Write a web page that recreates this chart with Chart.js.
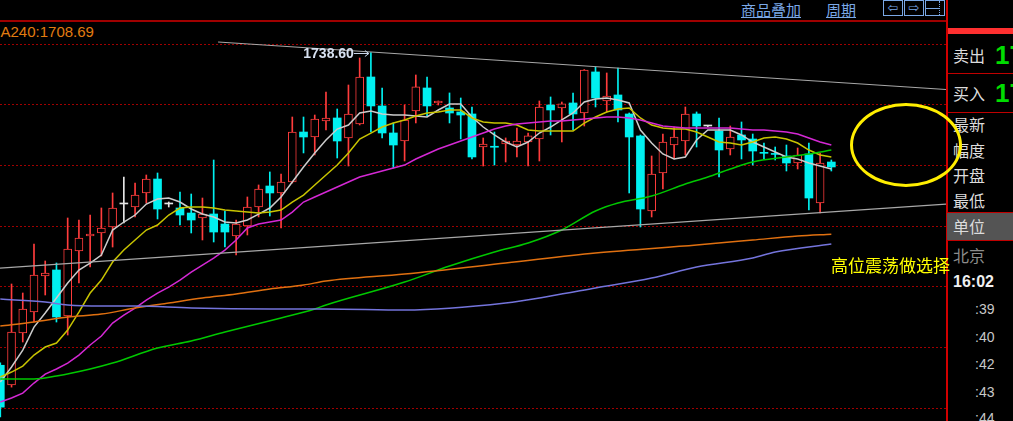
<!DOCTYPE html>
<html>
<head>
<meta charset="utf-8">
<script src="https://cdn.jsdelivr.net/npm/chart.js@4.4.0/dist/chart.umd.min.js"></script>
<style>
  body { margin: 0; background: #000; width: 1013px; height: 421px; overflow: hidden; position: relative;
         font-family: "Noto Sans CJK SC", "Noto Sans", sans-serif; }
  .abs { position: absolute; white-space: nowrap; }
  #wrap { position: absolute; left: 0; top: 21px; width: 946px; height: 400px; }
  .panel-label { position: absolute; left: 953px; font-size: 16px; line-height: 20px; color: #dcdcdc; }
  .tick-time { position: absolute; left: 975px; font-size: 14px; line-height: 18px; color: #c8c8c8;
               font-family: "Liberation Sans", Arial, sans-serif; }
  .tool-link { position: absolute; top: 1px; font-size: 15px; line-height: 18px; color: #7aa8e6; text-decoration: underline; }
  .tool-btn { position: absolute; top: 0; width: 18px; height: 14px; border: 1px solid #7aa8e6; color: #7aa8e6;
              font-size: 13px; line-height: 14px; text-align: center; font-family: "DejaVu Sans", sans-serif; }
  .red-h { position: absolute; left: 948px; width: 65px; height: 1px; background: #c00000; }
  .bid { position: absolute; left: 995px; font: bold 26px/26px "Liberation Sans", Arial, sans-serif; color: #00dd00; }
</style>
</head>
<body>
<!-- toolbar -->
<div class="abs" style="left:0;top:20px;width:946px;height:2px;background:#a00000"></div>
<div class="tool-link" style="left:741px">商品叠加</div>
<div class="tool-link" style="left:826px">周期</div>
<div class="tool-btn" style="left:883px">⇦</div>
<div class="tool-btn" style="left:904px">⇨</div>
<div class="tool-btn" style="left:925px">
  <div style="position:absolute;left:0;top:7px;width:13px;height:1px;background:#7aa8e6"></div>
  <div style="position:absolute;left:13px;top:0;width:1px;height:14px;border-left:1px dotted #7aa8e6"></div>
</div>

<div class="abs" style="left:-12px;top:23px;font:15px/18px 'Liberation Sans',Arial,sans-serif;color:#e27c10">MA240:1708.69</div>

<div id="wrap"><canvas id="kline" width="946" height="400"></canvas></div>

<!-- right panel -->
<div class="abs" style="left:946px;top:0;width:2px;height:421px;background:#d00000"></div>
<div class="abs" style="left:948px;top:28px;width:65px;height:6px;background:#ff3030"></div>
<div class="panel-label" style="top:45px">卖出</div>
<div class="bid" style="top:42px">17</div>
<div class="red-h" style="top:73px"></div>
<div class="panel-label" style="top:83px">买入</div>
<div class="bid" style="top:80px">17</div>
<div class="red-h" style="top:112px"></div>
<div class="panel-label" style="top:114px">最新</div>
<div class="panel-label" style="top:140px">幅度</div>
<div class="panel-label" style="top:165px">开盘</div>
<div class="panel-label" style="top:190px">最低</div>
<div class="abs" style="left:947px;top:212px;width:66px;height:27px;background:#545454;border-top:1px solid #c00000;border-bottom:1px solid #c00000"></div>
<div class="panel-label" style="top:216px">单位</div>
<div class="panel-label" style="top:245px;color:#8c8c8c">北京</div>
<div class="abs" style="left:953px;top:272px;font:bold 16px/20px 'Liberation Sans',Arial,sans-serif;color:#f0f0f0">16:02</div>
<div class="tick-time" style="top:300px">:39</div>
<div class="tick-time" style="top:328px">:40</div>
<div class="tick-time" style="top:355px">:42</div>
<div class="tick-time" style="top:383px">:43</div>
<div class="tick-time" style="top:409px">:44</div>

<!-- annotations -->
<div class="abs" style="left:850px;top:103px;width:106px;height:78px;border:3px solid #ffee00;border-radius:50%"></div>
<div class="abs" style="left:831px;top:255px;font-size:17px;line-height:20px;color:#ffff00">高位震荡做选择</div>

<script>
// candle data, one entry per bar
const candleOpen = [1687.1, 1683.85, 1692.41, 1695.87, 1701.8, 1702.79, 1695.21, 1705.92, 1708.39, 1708.88,
  1709.87, 1713.66, 1713.16, 1715.47, 1717.77, 1713.66, 1713.0, 1712.17, 1711.35, 1712.01,
  1710.36, 1708.39, 1710.03, 1713.16, 1716.62, 1715.47, 1717.28, 1725.51, 1724.69, 1727.33,
  1727.82, 1724.53, 1726.83, 1734.57, 1729.8, 1725.35, 1724.03, 1728.97, 1732.76, 1730.29,
  1729.47, 1728.81, 1728.48, 1723.04, 1723.1, 1723.54, 1723.37, 1723.87, 1724.36, 1729.96,
  1729.47, 1730.29, 1728.64, 1735.4, 1730.62, 1731.61, 1728.48, 1724.86, 1712.5, 1718.76,
  1723.37, 1724.03, 1728.48, 1726.5, 1725.68, 1722.71, 1725.02, 1724.36, 1722.14, 1721.96,
  1721.56, 1720.41, 1721.89, 1713.82, 1720.57];
const candleHigh = [1687.5, 1700.48, 1699.0, 1707.07, 1704.27, 1703.94, 1711.35, 1711.02, 1711.84, 1713.0,
  1715.47, 1718.1, 1717.11, 1718.43, 1718.76, 1713.99, 1715.63, 1715.3, 1714.64, 1720.9,
  1712.5, 1711.02, 1714.81, 1716.79, 1718.93, 1718.6, 1727.98, 1727.98, 1728.31, 1732.1,
  1729.3, 1733.25, 1737.7, 1738.6, 1732.76, 1727.0, 1729.96, 1734.9, 1734.57, 1730.62,
  1731.94, 1731.11, 1729.63, 1724.53, 1725.51, 1724.53, 1726.17, 1725.35, 1730.62, 1731.28,
  1730.45, 1731.94, 1735.8, 1736.22, 1735.23, 1736.05, 1728.64, 1725.02, 1721.56, 1725.18,
  1726.34, 1729.63, 1728.81, 1726.6, 1727.82, 1726.5, 1727.16, 1725.18, 1723.7, 1723.04,
  1723.37, 1722.88, 1723.7, 1722.06, 1720.9];
const candleLow = [1678.6, 1683.5, 1690.93, 1694.22, 1698.67, 1694.22, 1692.08, 1700.65, 1703.28, 1705.09,
  1706.57, 1710.53, 1711.52, 1713.82, 1711.19, 1713.16, 1710.2, 1708.88, 1707.73, 1707.4,
  1706.57, 1705.26, 1708.55, 1711.52, 1711.68, 1709.7, 1717.1, 1722.06, 1721.73, 1725.84,
  1721.23, 1719.91, 1726.67, 1725.51, 1724.53, 1719.58, 1720.74, 1727.0, 1728.15, 1729.96,
  1727.0, 1724.36, 1721.07, 1719.91, 1720.08, 1720.57, 1721.4, 1719.91, 1720.74, 1725.02,
  1723.87, 1725.84, 1726.5, 1729.63, 1728.81, 1727.16, 1715.47, 1709.87, 1711.52, 1716.13,
  1721.07, 1721.73, 1723.04, 1726.4, 1718.1, 1721.73, 1721.07, 1720.08, 1721.07, 1720.9,
  1719.09, 1719.42, 1712.67, 1712.17, 1719.09];
const candleClose = [1680.2, 1692.58, 1696.36, 1701.96, 1702.29, 1695.05, 1706.25, 1708.06, 1708.72, 1709.7,
  1713.0, 1713.66, 1715.14, 1717.77, 1712.83, 1713.66, 1711.84, 1711.02, 1712.01, 1709.04,
  1709.04, 1710.36, 1713.16, 1716.13, 1715.47, 1717.28, 1725.51, 1724.69, 1727.65, 1727.82,
  1724.03, 1728.48, 1734.57, 1729.8, 1725.35, 1723.37, 1727.49, 1732.93, 1729.8, 1730.62,
  1728.64, 1728.31, 1721.4, 1723.54, 1723.0, 1724.03, 1724.03, 1724.86, 1729.63, 1729.14,
  1730.13, 1728.48, 1735.72, 1731.11, 1731.44, 1729.14, 1724.69, 1712.83, 1718.6, 1723.87,
  1724.69, 1728.48, 1726.5, 1726.5, 1722.55, 1724.69, 1724.2, 1722.38, 1722.0, 1721.82,
  1720.41, 1721.73, 1714.64, 1720.41, 1719.75];

// moving averages, one value per bar
const ma5 = [1684.33, 1686.81, 1689.60, 1693.39, 1695.70, 1698.17, 1700.64, 1702.78, 1703.93, 1705.25,
  1709.37, 1710.69, 1711.84, 1713.65, 1714.47, 1714.64, 1713.98, 1712.83, 1712.00, 1711.51,
  1710.69, 1710.52, 1711.02, 1712.00, 1712.99, 1714.80, 1717.27, 1719.75, 1722.05, 1724.19,
  1726.00, 1726.66, 1728.64, 1728.97, 1728.47, 1728.31, 1728.31, 1728.14, 1727.98, 1729.13,
  1730.12, 1730.12, 1727.98, 1726.33, 1725.02, 1723.86, 1723.04, 1723.86, 1725.34, 1726.33,
  1727.49, 1728.64, 1730.45, 1730.94, 1731.11, 1730.78, 1730.29, 1725.84, 1723.70, 1721.89,
  1721.06, 1721.39, 1724.19, 1725.84, 1725.84, 1725.84, 1725.02, 1723.86, 1723.04, 1722.22,
  1721.39, 1721.06, 1720.40, 1719.91, 1719.42];
const ma10 = [1685.16, 1685.98, 1686.97, 1688.78, 1690.10, 1690.76, 1692.90, 1695.86, 1698.99, 1701.13,
  1704.10, 1706.07, 1707.72, 1709.37, 1710.19, 1711.84, 1712.99, 1713.16, 1713.16, 1712.99,
  1712.66, 1712.50, 1712.33, 1712.17, 1712.33, 1712.66, 1713.98, 1715.13, 1716.78, 1718.43,
  1720.07, 1722.05, 1724.36, 1725.34, 1726.33, 1726.99, 1727.49, 1728.14, 1728.64, 1728.80,
  1729.13, 1729.13, 1727.82, 1727.16, 1726.99, 1726.99, 1726.66, 1725.84, 1725.67, 1725.67,
  1725.67, 1725.67, 1726.99, 1727.98, 1728.80, 1729.30, 1729.46, 1727.82, 1726.66, 1726.17,
  1726.00, 1726.00, 1725.51, 1724.69, 1723.86, 1723.70, 1723.37, 1723.86, 1724.52, 1724.69,
  1724.36, 1723.70, 1722.54, 1721.72, 1721.39];
const ma20 = [1681.04, 1681.70, 1682.52, 1684.17, 1685.65, 1686.48, 1687.46, 1688.78, 1690.43, 1691.91,
  1694.05, 1695.37, 1696.52, 1697.84, 1698.99, 1699.98, 1701.13, 1702.45, 1703.60, 1704.76,
  1706.07, 1707.72, 1709.70, 1710.36, 1710.69, 1711.02, 1712.33, 1713.98, 1714.80, 1715.63,
  1716.45, 1717.27, 1718.10, 1718.59, 1719.09, 1719.58, 1720.07, 1721.06, 1721.89, 1722.71,
  1723.37, 1724.03, 1724.69, 1725.34, 1726.00, 1726.50, 1726.83, 1726.99, 1727.16, 1727.32,
  1727.32, 1727.49, 1727.65, 1727.82, 1727.98, 1727.98, 1727.82, 1727.49, 1726.99, 1726.50,
  1726.33, 1726.17, 1726.17, 1726.17, 1726.17, 1726.17, 1726.00, 1725.84, 1725.84, 1725.67,
  1725.51, 1725.18, 1724.52, 1723.86, 1723.37];

// slower averages, read at selected bars
const ma60Index = [0, 3, 5, 8, 10, 14, 17, 20, 25, 28, 29, 36, 40, 44, 47, 50, 53, 55, 58, 61, 63, 65, 67, 70, 72, 74];
const ma60 = [1684.83, 1684.83, 1685.32, 1686.48, 1687.46, 1689.93, 1691.09, 1692.57, 1694.88, 1696.36,
  1697.02, 1700.80, 1703.44, 1705.75, 1707.23, 1709.37, 1712.50, 1713.82, 1714.97, 1716.95,
  1718.10, 1719.42, 1720.57, 1721.39, 1721.89, 1722.54];
const ma240Index = [0, 3, 6, 9, 12, 15, 18, 21, 24, 27, 29, 36, 45, 53, 62, 67, 71, 74];
const ma240 = [1693.56, 1694.22, 1695.04, 1695.53, 1696.52, 1697.35, 1698.17, 1698.83, 1699.65, 1700.31,
  1700.97, 1702.12, 1703.93, 1705.58, 1706.90, 1707.72, 1708.38, 1708.69];
const ma120Index = [0, 4, 6, 9, 12, 17, 24, 29, 36, 45, 49, 53, 58, 62, 67, 69, 74];
const ma120 = [1698.00, 1697.51, 1697.02, 1696.85, 1696.85, 1696.52, 1696.36, 1696.36, 1696.19, 1697.35,
  1698.50, 1699.82, 1701.46, 1703.28, 1704.76, 1705.75, 1707.06];

// hand-drawn trend lines (bar position, price)
const trendUpperX = [19.39, 84.21];
const trendUpperY = [1740.33, 1732.51];
const trendLowerX = [-0.03, 84.21];
const trendLowerY = [1703.11, 1713.65];

const gridPrices = [1680, 1690, 1700, 1710, 1720, 1730, 1740];
const highLabelIndex = 33;
const highLabelText = "1738.60";

const upColor = '#ff3c3c', downColor = '#00f0f0', flatColor = '#e4e4e4';

function dir(i) {
  if (i === undefined) return 0;
  return candleClose[i] > candleOpen[i] ? 1 : (candleClose[i] < candleOpen[i] ? -1 : 0);
}
function candleColor(i) {
  const d = dir(i);
  return d > 0 ? upColor : (d < 0 ? downColor : flatColor);
}

const bodies = candleOpen.map((o, i) => ({ x: i, y: [o, candleClose[i]] }));
const wicks = candleLow.map((l, i) => ({ x: i, y: [l, candleHigh[i]] }));
const toPoints = (idx, vals) => vals.map((v, k) => ({ x: idx[k], y: v }));
const series = vals => vals.map((v, i) => ({ x: i, y: v }));

function maLine(data, color, extra) {
  return Object.assign({
    type: 'line', data, borderColor: color, borderWidth: 1.5,
    pointRadius: 0, tension: 0, order: 0
  }, extra || {});
}

const highLabel = {
  id: 'highLabel',
  afterDatasetsDraw(chart) {
    const { ctx, scales: { x, y } } = chart;
    const px = x.getPixelForValue(highLabelIndex);
    const py = Math.round(y.getPixelForValue(candleHigh[highLabelIndex])) + 0.5;
    ctx.save();
    ctx.strokeStyle = '#c8d4e8';
    ctx.lineWidth = 1;
    ctx.beginPath();
    ctx.moveTo(px - 17, py); ctx.lineTo(px - 2, py);
    ctx.moveTo(px - 6, py - 3); ctx.lineTo(px - 2, py); ctx.lineTo(px - 6, py + 3);
    ctx.stroke();
    ctx.font = 'bold 14px "Liberation Sans", Arial, sans-serif';
    ctx.fillStyle = '#d6e0f0';
    ctx.textAlign = 'right';
    ctx.textBaseline = 'middle';
    ctx.fillText(highLabelText, px - 17, py + 1);
    ctx.restore();
  }
};

new Chart(document.getElementById('kline').getContext('2d'), {
  type: 'bar',
  data: {
    datasets: [
      maLine(toPoints(trendUpperX, trendUpperY), '#a8a8a8', { borderWidth: 1.2 }),
      maLine(toPoints(trendLowerX, trendLowerY), '#a8a8a8', { borderWidth: 1.2 }),
      maLine(toPoints(ma120Index, ma120), '#7474dc', { cubicInterpolationMode: 'monotone' }),
      maLine(toPoints(ma240Index, ma240), '#e07010', { cubicInterpolationMode: 'monotone' }),
      maLine(toPoints(ma60Index, ma60), '#00c800', { cubicInterpolationMode: 'monotone' }),
      maLine(series(ma20), '#d428d4'),
      maLine(series(ma10), '#c8c400'),
      maLine(series(ma5), '#cccccc'),
      {
        type: 'bar', data: bodies, order: 1, grouped: false,
        barThickness: 8, minBarLength: 1, borderSkipped: false,
        backgroundColor: c => dir(c.dataIndex) > 0 ? '#000' : candleColor(c.dataIndex),
        borderColor: c => candleColor(c.dataIndex),
        borderWidth: c => dir(c.dataIndex) > 0 ? 1 : 0
      },
      {
        type: 'bar', data: wicks, order: 2, grouped: false,
        barThickness: 1, borderWidth: 0,
        backgroundColor: c => candleColor(c.dataIndex)
      }
    ]
  },
  options: {
    responsive: false,
    animation: false,
    events: [],
    layout: { padding: 0, autoPadding: false },
    plugins: { legend: { display: false }, tooltip: { enabled: false } },
    scales: {
      x: { type: 'linear', min: -0.027, max: 84.21, offset: false, display: false },
      y: {
        type: 'linear', min: 1677.92, max: 1743.79, beginAtZero: false,
        afterBuildTicks: s => { s.ticks = gridPrices.map(v => ({ value: v })); },
        ticks: { display: false },
        grid: { color: '#a00000', lineWidth: 1, drawTicks: false },
        border: { display: false, dash: [2, 2] }
      }
    }
  },
  plugins: [highLabel]
});
</script>
</body>
</html>
